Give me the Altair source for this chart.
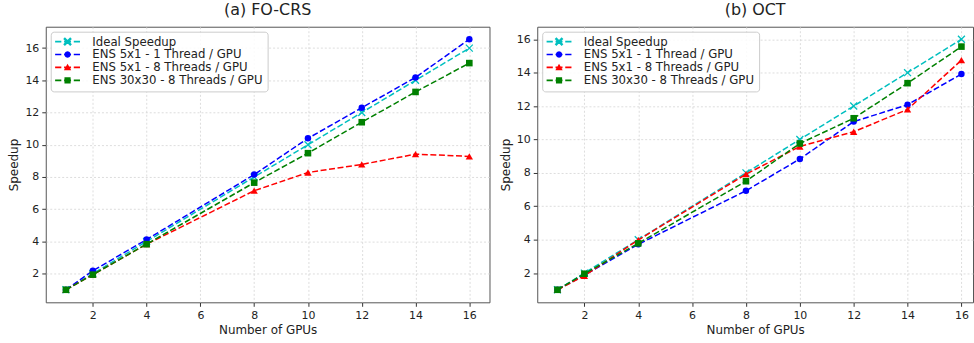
import math
import altair as alt
import pandas as pd

# ---------------- data ----------------
gpus = [1, 2, 4, 8, 10, 12, 14, 16]
series_names = [
    "Ideal Speedup",
    "ENS 5x1 - 1 Thread / GPU",
    "ENS 5x1 - 8 Threads / GPU",
    "ENS 30x30 - 8 Threads / GPU",
]
ideal = [1, 2, 4, 8, 10, 12, 14, 16]
focrs_1t = [1, 2.18, 4.12, 8.15, 10.4, 12.3, 14.18, 16.55]
focrs_8t = [1, 1.94, 3.83, 7.15, 8.28, 8.78, 9.42, 9.28]
focrs_30 = [1, 1.94, 3.83, 7.65, 9.48, 11.4, 13.28, 15.07]
oct_1t = [1, 1.88, 3.72, 6.93, 8.83, 11.07, 12.08, 13.92]
oct_8t = [1, 1.84, 3.98, 7.92, 9.58, 10.46, 11.8, 14.75]
oct_30 = [1, 1.96, 3.78, 7.5, 9.76, 11.27, 13.37, 15.56]
tick_values = [2, 4, 6, 8, 10, 12, 14, 16]

colors = ["#00bfbf", "#0000ff", "#ff0000", "#008000"]
FONT = "DejaVu Sans"
TXT = "#222222"


# ---------------- legend glyph paths (line + marker) ----------------
def _poly(pts):
    a = 0
    for i in range(len(pts)):
        x0, y0 = pts[i]
        x1, y1 = pts[(i + 1) % len(pts)]
        a += x0 * y1 - x1 * y0
    if a < 0:
        pts = pts[::-1]
    return "M" + " L".join(f"{x:.3f},{y:.3f}" for x, y in pts) + " Z"


def _rect(x0, x1, h):
    return _poly([(x0, -h), (x1, -h), (x1, h), (x0, h)])


def _dashes():
    h = 0.17
    return " ".join(_rect(a, b, h) for a, b in [(-2.5, -1.25), (-0.7, 0.7), (1.25, 2.5)])


def _circle(r):
    n = 24
    return _poly([(r * math.cos(2 * math.pi * k / n), r * math.sin(2 * math.pi * k / n)) for k in range(n)])


def _xmark(a, t):
    d = t / math.sqrt(2)
    p1 = _poly([(-a + d, -a - d), (a + d, a - d), (a - d, a + d), (-a - d, -a + d)])
    p2 = _poly([(-a + d, a + d), (a + d, -a + d), (a - d, -a - d), (-a - d, a - d)])
    return p1 + " " + p2


legend_paths = [
    _dashes() + " " + _xmark(0.7, 0.24),
    _dashes() + " " + _circle(0.64),
    _dashes() + " " + _poly([(0, -0.74), (0.74, 0.58), (-0.74, 0.58)]),
    _dashes() + " " + _rect(-0.62, 0.62, 0.62),
]

marker_specs = [
    dict(shape="M-1,-1L1,1M-1,1L1,-1", filled=False, strokeWidth=1.3, size=49),
    dict(shape="circle", filled=True, size=42),
    dict(shape="triangle-up", filled=True, size=54),
    dict(shape="square", filled=True, size=44),
]


def panel(title, series_values, x_domain, y_domain, width):
    rows = []
    for name, vals in zip(series_names, series_values):
        for g, v in zip(gpus, vals):
            rows.append({"gpus": g, "speedup": v, "series": name})
    df = pd.DataFrame(rows)

    axis_common = dict(
        values=tick_values,
        grid=True,
        gridColor="#d4d4d4",
        gridDash=[2, 2],
        gridWidth=0.8,
        domain=False,
        tickColor="#333333",
        tickSize=4,
        tickWidth=1,
        labelFont=FONT,
        labelFontSize=11,
        labelColor=TXT,
        labelPadding=3,
        titleFont=FONT,
        titleFontSize=12,
        titleFontWeight="normal",
        titleColor=TXT,
        titlePadding=4,
        format="d",
    )
    x = alt.X(
        "gpus:Q",
        scale=alt.Scale(domain=x_domain, nice=False, zero=False),
        axis=alt.Axis(title="Number of GPUs", **axis_common),
    )
    y = alt.Y(
        "speedup:Q",
        scale=alt.Scale(domain=y_domain, nice=False, zero=False),
        axis=alt.Axis(title="Speedup", **axis_common),
    )

    layers = []
    for i, name in enumerate(series_names):
        base = alt.Chart(df).transform_filter(alt.datum.series == name)
        line = base.mark_line(
            color=colors[i], strokeDash=[6, 2.6], strokeWidth=1.5, clip=True
        ).encode(x=x, y=y)
        spec = marker_specs[i]
        pts = base.mark_point(color=colors[i], opacity=1, **spec).encode(x=x, y=y)
        layers += [line, pts]

    leg = alt.Legend(
        title=None,
        orient="top-left",
        offset=5,
        padding=4,
        fillColor="rgba(255,255,255,0.85)",
        strokeColor="#cccccc",
        cornerRadius=3,
        symbolSize=100,
        symbolStrokeWidth=0,
        symbolOpacity=1,
        symbolOffset=7,
        labelOffset=19,
        labelFont=FONT,
        labelFontSize=11.8,
        labelColor=TXT,
        labelLimit=400,
        rowPadding=0,
        zindex=1,
    )
    legend_layer = (
        alt.Chart(df)
        .transform_filter("datum.gpus < 0")
        .mark_point(filled=True, opacity=1)
        .encode(
            x=x,
            y=y,
            color=alt.Color("series:N", scale=alt.Scale(domain=series_names, range=colors), legend=leg),
            shape=alt.Shape("series:N", scale=alt.Scale(domain=series_names, range=legend_paths), legend=leg),
        )
    )
    layers.append(legend_layer)

    return alt.layer(*layers).properties(title=title, width=width, height=277)


left = panel(
    "(a) FO-CRS",
    [ideal, focrs_1t, focrs_8t, focrs_30],
    [0.25, 16.75],
    [0.2225, 17.3275],
    446,
)
right = panel(
    "(b) OCT",
    [ideal, oct_1t, oct_8t, oct_30],
    [0.25, 16.43],
    [0.25, 16.75],
    438,
)

chart = (
    alt.hconcat(left, right, spacing=8)
    .resolve_scale(color="independent", shape="independent")
    .resolve_legend(color="independent", shape="independent")
    .properties(padding={"left": 7, "top": 0, "right": 0, "bottom": 0})
    .configure_view(stroke="#555555", strokeWidth=1)
    .configure_title(font=FONT, fontSize=16, fontWeight="normal", color=TXT, anchor="middle", offset=9)
)

chart.save("out.html", embed_options={"renderer": "svg", "actions": False})
